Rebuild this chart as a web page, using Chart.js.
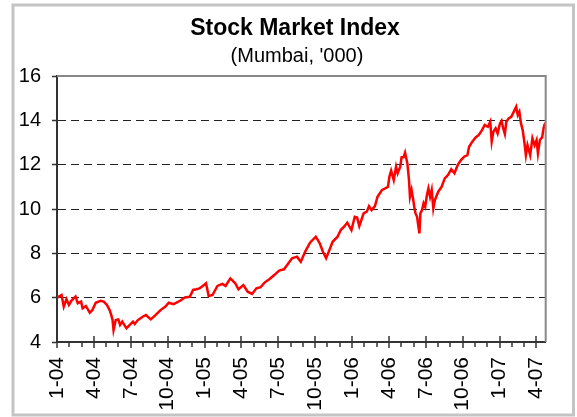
<!DOCTYPE html>
<html>
<head>
<meta charset="utf-8">
<script src="https://cdn.jsdelivr.net/npm/chart.js@4/dist/chart.umd.min.js"></script>
<style>
  html, body { margin: 0; padding: 0; background: #fff; }
  #wrap { position: relative; width: 577px; height: 417px; }
</style>
</head>
<body>
<div id="wrap"><canvas id="chart" width="577" height="417"></canvas></div>
<script>
const titleText = 'Stock Market Index';
const subtitleText = "(Mumbai, '000)";

// axis labels: one every quarter, monthly minor ticks
const tickLabels = ['1-04', '4-04', '7-04', '10-04', '1-05', '4-05', '7-05',
  '10-05', '1-06', '4-06', '7-06', '10-06', '1-07', '4-07'];
const yTicks = [4, 6, 8, 10, 12, 14, 16];

// months since Jan 2004, and index level in thousands
const months = [
  0.02, 0.37, 0.55, 0.77, 0.97, 1.16, 1.51, 1.69, 1.96, 2.08, 2.35, 2.67, 2.88, 3.15,
  3.54, 3.80, 4.06, 4.28, 4.41, 4.52, 4.60, 4.78, 4.99, 5.13, 5.31, 5.47, 5.65, 5.92,
  6.18, 6.32, 6.58, 6.97, 7.23, 7.63, 8.03, 8.42, 8.82, 9.09, 9.48, 10.01, 10.40,
  10.80, 11.07, 11.33, 11.59, 11.86, 12.12, 12.34, 12.65, 13.05, 13.45, 13.71, 14.10,
  14.50, 14.76, 15.16, 15.51, 15.87, 16.22, 16.56, 16.88, 17.27, 17.67, 18.07, 18.46,
  18.72, 19.12, 19.52, 19.83, 20.18, 20.58, 21.05, 21.37, 21.63, 21.89, 22.16, 22.42,
  22.82, 23.08, 23.35, 23.61, 23.95, 24.22, 24.41, 24.59, 24.94, 25.20, 25.38, 25.59,
  25.86, 26.07, 26.25, 26.44, 26.70, 26.92, 27.04, 27.18, 27.39, 27.58, 27.71, 27.92,
  28.03, 28.19, 28.31, 28.50, 28.63, 28.71, 28.84, 28.98, 29.08, 29.16, 29.29, 29.37,
  29.48, 29.56, 29.69, 29.82, 29.95, 30.09, 30.21, 30.35, 30.48, 30.61, 30.74, 31.01,
  31.28, 31.54, 31.80, 32.07, 32.33, 32.59, 32.86, 33.12, 33.38, 33.52, 33.78, 34.05,
  34.31, 34.57, 34.79, 35.05, 35.24, 35.36, 35.50, 35.68, 35.84, 36.03, 36.16, 36.29,
  36.43, 36.55, 36.74, 36.95, 37.16, 37.35, 37.48, 37.61, 37.74, 37.88, 38.01, 38.14,
  38.27, 38.49, 38.67, 38.85, 39.01, 39.12, 39.28, 39.46, 39.60, 39.72
];
const values = [
  6.00, 6.12, 5.60, 5.93, 5.67, 5.86, 6.05, 5.75, 5.82, 5.52, 5.62, 5.32, 5.44, 5.77,
  5.86, 5.82, 5.67, 5.44, 5.22, 4.99, 4.54, 4.99, 5.02, 4.77, 4.92, 4.77, 4.62, 4.77,
  4.92, 4.81, 4.99, 5.14, 5.22, 5.02, 5.22, 5.44, 5.60, 5.77, 5.71, 5.86, 6.01,
  6.04, 6.35, 6.38, 6.42, 6.53, 6.65, 6.07, 6.12, 6.53, 6.62, 6.53, 6.87,
  6.65, 6.38, 6.57, 6.27, 6.17, 6.42, 6.47, 6.68, 6.83, 7.02, 7.22, 7.28,
  7.47, 7.78, 7.85, 7.62, 8.07, 8.48, 8.75, 8.45, 8.07, 7.78, 8.15, 8.52,
  8.75, 9.05, 9.20, 9.38, 9.05, 9.65, 9.62, 9.23, 9.80, 9.88, 10.13, 9.95,
  10.13, 10.55, 10.70, 10.86, 10.93, 11.00, 11.46, 11.73, 11.31, 11.91, 11.61, 11.91,
  12.33, 12.33, 12.54, 12.06, 11.31, 10.55, 10.86, 10.40, 10.02, 9.80, 9.65, 9.32,
  8.90, 9.80, 9.95, 10.26, 10.10, 10.63, 10.93, 10.55, 10.86, 10.02, 10.40, 10.78,
  11.00, 11.38, 11.53, 11.79, 11.61, 11.98, 12.21, 12.36, 12.43, 12.81, 13.04, 13.23,
  13.34, 13.56, 13.79, 13.71, 13.94, 13.04, 13.49, 13.64, 13.41, 13.86, 13.98, 13.64,
  13.38, 13.94, 14.09, 14.16, 14.39, 14.61, 14.24, 14.39, 13.86, 13.56, 13.04, 12.43,
  12.88, 12.43, 13.19, 12.88, 13.11, 12.51, 13.11, 13.23, 13.71, 13.89
];

const FONT = "'Liberation Sans', Arial, sans-serif";

// outer frame, title and subtitle
const framePlugin = {
  id: 'frame',
  beforeDraw(chart) {
    const ctx = chart.ctx;
    ctx.save();
    ctx.fillStyle = '#fff';
    ctx.fillRect(0, 0, chart.width, chart.height);
    ctx.fillStyle = '#000';
    ctx.textAlign = 'center';
    ctx.textBaseline = 'middle';
    ctx.font = 'bold 23px ' + FONT;
    ctx.fillText(titleText, 295, 29);
    ctx.font = '20px ' + FONT;
    ctx.fillText(subtitleText, 297, 56);
    ctx.restore();
  },
  afterDraw(chart) {
    const ctx = chart.ctx;
    const a = chart.chartArea;
    const xs = chart.scales.x;
    ctx.save();
    // grey top and right edges of the plot
    ctx.strokeStyle = '#888';
    ctx.lineWidth = 2;
    ctx.beginPath();
    ctx.moveTo(a.left, a.top);
    ctx.lineTo(a.right, a.top);
    ctx.lineTo(a.right, a.bottom);
    ctx.stroke();
    // month ticks on the date axis, longer crossing ticks each quarter
    ctx.strokeStyle = '#333';
    ctx.lineWidth = 1.5;
    for (let m = 0; m < tickLabels.length * 3 - 2; m++) {
      const px = Math.round(xs.getPixelForValue(m));
      ctx.beginPath();
      if (m % 3 === 0) {
        ctx.moveTo(px, a.bottom - 6);
        ctx.lineTo(px, a.bottom + 6);
      } else {
        ctx.moveTo(px, a.bottom + 1);
        ctx.lineTo(px, a.bottom + 5);
      }
      ctx.stroke();
    }
    // frame drawn last so long labels tuck under it
    ctx.strokeStyle = '#c4c4c4';
    ctx.lineWidth = 3;
    ctx.strokeRect(13, 5, 560.5, 410);
    ctx.restore();
  }
};

new Chart(document.getElementById('chart'), {
  type: 'line',
  data: {
    datasets: [{
      data: months.map((m, i) => ({ x: m, y: values[i] })),
      borderColor: '#ff0000',
      borderWidth: 2.5,
      pointRadius: 0,
      tension: 0,
      fill: false
    }]
  },
  options: {
    responsive: false,
    animation: false,
    events: [],
    layout: { padding: { top: 76, left: 0, right: 18, bottom: 0 } },
    plugins: {
      legend: { display: false },
      tooltip: { enabled: false },
      title: { display: false }
    },
    scales: {
      x: {
        type: 'linear',
        min: 0,
        max: 39.75,
        afterBuildTicks(scale) {
          scale.ticks = [];
          for (let m = 0; m < tickLabels.length * 3 - 2; m++) scale.ticks.push({ value: m });
        },
        afterFit(scale) { scale.height = 75; },
        grid: { display: false, drawTicks: false, tickLength: 0 },
        border: { display: true, color: '#333', width: 2 },
        ticks: {
          autoSkip: false,
          minRotation: 90,
          maxRotation: 90,
          padding: 15,
          color: '#000',
          font: { family: FONT, size: 21 },
          callback: (v) => (v % 3 === 0 ? tickLabels[v / 3] : '')
        }
      },
      y: {
        min: 4,
        max: 16,
        afterBuildTicks(scale) {
          scale.ticks = yTicks.map(v => ({ value: v }));
        },
        afterFit(scale) { scale.width = 57; },
        grid: {
          drawTicks: true,
          tickLength: 5,
          lineWidth: 1,
          color: (c) => (c.tick && (c.tick.value === 4 || c.tick.value === 16) ? 'rgba(0,0,0,0)' : '#222'),
          tickColor: '#333',
          tickWidth: 1.5
        },
        border: { display: true, color: '#333', width: 2, dash: [8, 5] },
        ticks: {
          padding: 11,
          color: '#000',
          font: { family: FONT, size: 20 }
        }
      }
    }
  },
  plugins: [framePlugin]
});
</script>
</body>
</html>
